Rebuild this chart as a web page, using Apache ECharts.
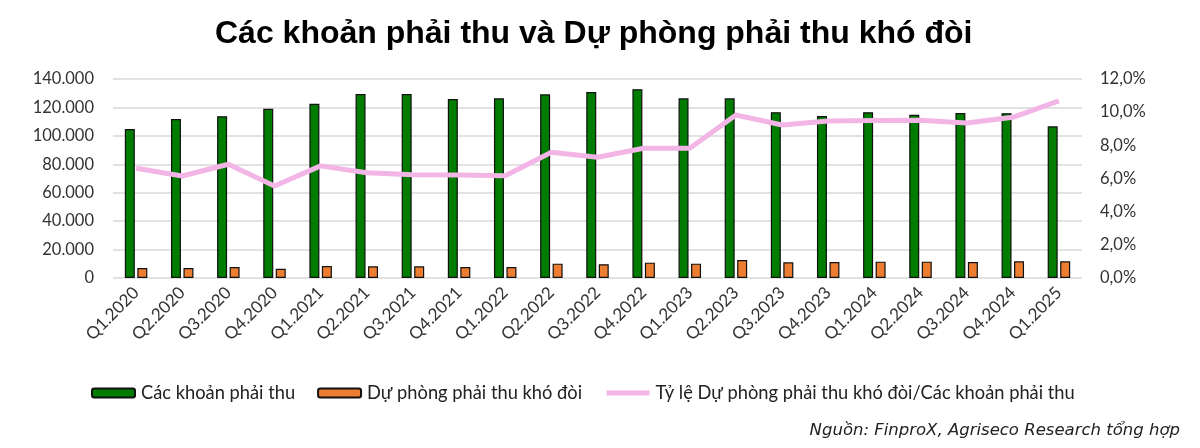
<!DOCTYPE html>
<html>
<head>
<meta charset="utf-8">
<script src="https://cdn.jsdelivr.net/npm/echarts@6/dist/echarts.min.js"></script>
<style>html,body{margin:0;padding:0;background:#fff}#c{width:1200px;height:448px}</style>
</head>
<body>
<div id="c"></div>
<script>
const categories = ['Q1.2020','Q2.2020','Q3.2020','Q4.2020','Q1.2021','Q2.2021','Q3.2021','Q4.2021','Q1.2022','Q2.2022','Q3.2022','Q4.2022','Q1.2023','Q2.2023','Q3.2023','Q4.2023','Q1.2024','Q2.2024','Q3.2024','Q4.2024','Q1.2025'];
const receivables = [104800,111900,113800,119100,122600,129400,129400,125900,126400,129200,130900,132800,126400,126400,116600,114000,116600,114900,116100,115900,106700];
const provisions = [7000,7000,7700,6500,8400,8200,8200,7700,7700,10100,9700,10800,10100,12700,11000,11300,11500,11500,11300,11700,11700];
const ratioPct = [6.62,6.15,6.86,5.55,6.76,6.35,6.23,6.21,6.17,7.58,7.28,7.82,7.82,9.83,9.23,9.47,9.49,9.51,9.35,9.69,10.68];
const seriesNames = ['Các khoản phải thu','Dự phòng phải thu khó đòi','Tỷ lệ Dự phòng phải thu khó đòi/Các khoản phải thu'];
const titleText = 'Các khoản phải thu và Dự phòng phải thu khó đòi';
const sourceText = 'Nguồn: FinproX, Agriseco Research tổng hợp';

const chart = echarts.init(document.getElementById('c'), null, {renderer:'canvas'});
const lblFont = 'Lato';
const lblColor = '#333';
const pink = '#f2b5e6';
chart.setOption({
  animation:false,
  title:{text:titleText,left:210,top:13,textStyle:{fontFamily:'Liberation Sans',fontWeight:'bold',fontSize:32,color:'#000'}},
  grid:{left:113,right:118,top:79,bottom:170,containLabel:false},
  legend:{left:91,top:384,padding:0,itemWidth:43,itemHeight:9,itemGap:22,
    textStyle:{fontFamily:lblFont,fontSize:18.3,color:'#222',padding:[0,0,0,1]},
    data:[{name:seriesNames[0]},{name:seriesNames[1]},
      {name:seriesNames[2],itemStyle:{color:'rgba(0,0,0,0)',borderWidth:0,opacity:0},lineStyle:{color:pink,width:5}}]},
  xAxis:{type:'category',data:categories,
    axisLine:{show:false},axisTick:{show:false},
    axisLabel:{rotate:45,fontFamily:lblFont,fontSize:17,color:lblColor,margin:12,interval:0}},
  yAxis:[
    {type:'value',min:0,max:140000,interval:20000,
     axisLabel:{fontFamily:lblFont,fontSize:16.5,color:lblColor,margin:19,
       formatter:v=>v===0?'0':v.toLocaleString('de-DE')},
     splitLine:{lineStyle:{color:'#d9d9d9',width:1.5}},axisLine:{show:false},axisTick:{show:false}},
    {type:'value',min:0,max:12,interval:2,
     axisLabel:{fontFamily:lblFont,fontSize:16.5,color:lblColor,margin:18,
       formatter:v=>v.toFixed(1).replace('.',',')+'%'},
     splitLine:{show:false},axisLine:{show:false},axisTick:{show:false}}
  ],
  series:[
    {name:seriesNames[0],type:'bar',data:receivables,barWidth:10,barGap:'25%',
     itemStyle:{color:'#007c00',borderColor:'#111',borderWidth:1.2}},
    {name:seriesNames[1],type:'bar',data:provisions,barWidth:10,barGap:'25%',
     itemStyle:{color:'#ed7d31',borderColor:'#111',borderWidth:1.2}},
    {name:seriesNames[2],type:'line',yAxisIndex:1,data:ratioPct,symbol:'none',
     lineStyle:{color:pink,width:5},itemStyle:{color:pink}}
  ],
  graphic:[{type:'text',right:20,top:422,style:{text:sourceText,fontFamily:'DejaVu Sans',fontStyle:'italic',fontSize:16.5,fill:'#222'}}]
});
</script>
</body>
</html>
